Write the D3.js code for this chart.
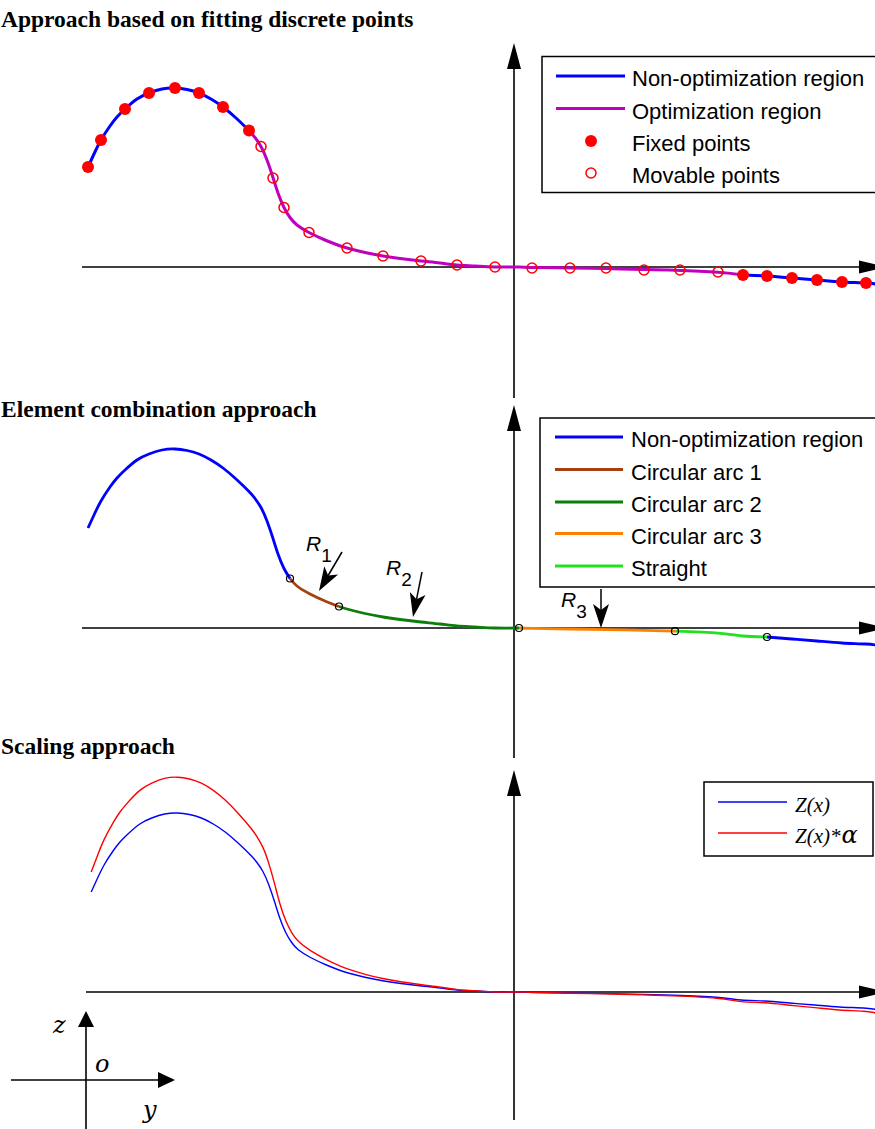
<!DOCTYPE html>
<html>
<head>
<meta charset="utf-8">
<script src="https://cdn.jsdelivr.net/npm/d3@7/dist/d3.min.js"></script>
<style>
  html, body { margin: 0; padding: 0; background: #fff; }
  svg { display: block; }
</style>
</head>
<body>
<div id="chart"></div>
<script>
// Profile of the contour: horizontal position y and height z (mm)
const profileY = [-106.5, -105, -103.25, -101, -99.25, -97.25, -94.25, -91.25, -88, -84.75,
  -81.75, -78.75, -75.75, -72.75, -69.5, -66.25, -64.75, -63.25, -61.75, -60.25,
  -59, -57.5, -56, -54.25, -51.25, -47.25, -43.75, -41.75, -37.25, -32.75,
  -28.5, -23.25, -18.5, -14.25, -9.75, -4.75, 1.25, 4.5, 14, 23,
  32.5, 40.25, 51, 57.25, 63.25, 69.5, 75.75, 82, 88, 91.5];
const profileZ = [25, 28.25, 31.75, 35.25, 37.5, 39.5, 42, 43.5, 44.5, 44.75,
  44.375, 43.5, 42, 40, 37.25, 34.125, 32.375, 30.125, 26.75, 22.375,
  18.5, 14.875, 12.375, 10.5, 8.625, 6.75, 5.375, 4.75, 3.625, 2.75,
  2.125, 1.5, 1, 0.5, 0.25, 0, 0, -0.1, -0.25, -0.4,
  -0.6, -0.8, -1.3, -2, -2.25, -2.75, -3.25, -3.75, -4, -4.4];

// Fitting approach: fixed and movable control points
const fixedY = [-106.5, -103.25, -97.25, -91.25, -84.75, -78.75, -72.75, -66.25,
  57.25, 63.25, 69.5, 75.75, 82, 88];
const fixedZ = [25, 31.75, 39.5, 43.5, 44.75, 43.5, 40, 34.125,
  -2, -2.25, -2.75, -3.25, -3.75, -4];
const movableY = [-63.25, -60.25, -57.5, -51.25, -41.75, -32.75, -23.25, -14.25,
  -4.75, 4.5, 14, 23, 32.5, 41.5, 51];
const movableZ = [30.125, 22.25, 14.875, 8.625, 4.75, 2.75, 1.5, 0.5,
  0, -0.25, -0.25, -0.25, -0.75, -0.75, -1.25];
const optimizationRange = [-66.25, 57.25];

// Element combination: segment limits along y
const elementNames = ["Non-optimization region", "Circular arc 1", "Circular arc 2",
  "Circular arc 3", "Straight", "Non-optimization region"];
const elementColors = ["#0000ff", "#a3420e", "#0b7d0b", "#ff8000", "#22e022", "#0000ff"];
const elementBreaks = [-56, -43.75, 1.25, 40.25, 63.25];
const radiusLabels = ["1", "2", "3"];

// Scaling approach
const alpha = 1.2;
const scaleLabels = ["Z(x)", "Z(x)*"];
const scaleColors = ["#0000ff", "#ff0000"];

const titles = ["Approach based on fitting discrete points",
  "Element combination approach", "Scaling approach"];
const fitLegend = ["Non-optimization region", "Optimization region", "Fixed points", "Movable points"];

const W = 875, H = 1129;
const svg = d3.select("#chart").append("svg").attr("width", W).attr("height", H)
  .attr("viewBox", `0 0 ${W} ${H}`);

const profile = profileY.map((y, i) => ({ y, z: profileZ[i] }));

const x12 = d3.scaleLinear().domain([-100, 100]).range([114, 914]);
const x3 = d3.scaleLinear().domain([-100, 100]).range([117, 911]);
const zScale = base => d3.scaleLinear().domain([0, 10]).range([base, base - 40]);
const z1 = zScale(267), z2 = zScale(628), z3 = zScale(992);

const sans = "'Liberation Sans', Arial, sans-serif";
const serif = "'Liberation Serif', 'Times New Roman', serif";
const smooth = d3.curveNatural;

function tri(g, tip, dir, len, half) {
  // filled triangle arrow head; dir is "up" or "right"
  const [tx, ty] = tip;
  const pts = dir === "up"
    ? [[tx, ty], [tx - half, ty + len], [tx + half, ty + len]]
    : [[tx, ty], [tx - len, ty - half], [tx - len, ty + half]];
  g.append("path").attr("d", "M" + pts.map(p => p.join(",")).join("L") + "Z").attr("fill", "#000");
}

function axes(g, axisY, xLeft, topTip, bottom, originX) {
  g.append("line").attr("x1", xLeft).attr("x2", 870).attr("y1", axisY).attr("y2", axisY)
    .attr("stroke", "#000").attr("stroke-width", 1.6);
  tri(g, [886, axisY], "right", 27, 6.5);
  g.append("line").attr("x1", originX).attr("x2", originX).attr("y1", topTip + 20).attr("y2", bottom)
    .attr("stroke", "#000").attr("stroke-width", 1.6);
  tri(g, [originX, topTip], "up", 26, 7);
}

function title(text, baseY) {
  svg.append("text").attr("x", 1).attr("y", baseY)
    .attr("font-family", serif).attr("font-weight", "bold").attr("font-size", 23.5)
    .attr("fill", "#000").text(text);
}

// ---------- Panel 1: fitting discrete points ----------
title(titles[0], 27);
const p1 = svg.append("g");
axes(p1, z1(0), 82, 43, 398, x12(0));

const line1 = d3.line().x(d => x12(d.y)).y(d => z1(d.z)).curve(smooth);
const [oa, ob] = optimizationRange;
const parts1 = [
  { data: profile.filter(d => d.y <= oa), color: "#0000ff" },
  { data: profile.filter(d => d.y >= oa && d.y <= ob), color: "#bf00bf" },
  { data: profile.filter(d => d.y >= ob), color: "#0000ff" }
];
p1.selectAll("path.seg").data(parts1).join("path").attr("class", "seg")
  .attr("d", d => line1(d.data)).attr("fill", "none").attr("stroke", d => d.color)
  .attr("stroke-width", 3).attr("stroke-linejoin", "round");

p1.selectAll("circle.fixed").data(fixedY.map((y, i) => ({ y, z: fixedZ[i] }))).join("circle")
  .attr("class", "fixed").attr("cx", d => x12(d.y)).attr("cy", d => z1(d.z)).attr("r", 6)
  .attr("fill", "#ff0000");
p1.selectAll("circle.movable").data(movableY.map((y, i) => ({ y, z: movableZ[i] }))).join("circle")
  .attr("class", "movable").attr("cx", d => x12(d.y)).attr("cy", d => z1(d.z)).attr("r", 5)
  .attr("fill", "none").attr("stroke", "#ff0000").attr("stroke-width", 1.5);

// legend 1
const lg1 = svg.append("g");
lg1.append("rect").attr("x", 542).attr("y", 56.5).attr("width", 345).attr("height", 136)
  .attr("fill", "#fff").attr("stroke", "#000").attr("stroke-width", 1.5);
const rows1 = [76, 108.5, 141, 173];
fitLegend.forEach((name, i) => {
  const ry = rows1[i];
  if (i === 0 || i === 1) {
    lg1.append("line").attr("x1", 556).attr("x2", 625).attr("y1", ry).attr("y2", ry)
      .attr("stroke", i === 0 ? "#0000ff" : "#bf00bf").attr("stroke-width", 3);
  } else if (i === 2) {
    lg1.append("circle").attr("cx", 591).attr("cy", ry).attr("r", 6).attr("fill", "#ff0000");
  } else {
    lg1.append("circle").attr("cx", 591).attr("cy", ry).attr("r", 5).attr("fill", "none")
      .attr("stroke", "#ff0000").attr("stroke-width", 1.5);
  }
  lg1.append("text").attr("x", 632).attr("y", ry + 10).attr("font-family", sans)
    .attr("font-size", 22).attr("fill", "#000").text(name);
});

// ---------- Panel 2: element combination ----------
title(titles[1], 417);
const p2 = svg.append("g");
axes(p2, z2(0), 82, 405, 758, x12(0));

const line2 = d3.line().x(d => x12(d.y)).y(d => z2(d.z)).curve(smooth);
const limits = [-Infinity, ...elementBreaks, Infinity];
const parts2 = elementColors.map((c, i) => ({
  color: c,
  data: profile.filter(d => d.y >= limits[i] && d.y <= limits[i + 1])
}));
p2.selectAll("path.seg").data(parts2).join("path").attr("class", "seg")
  .attr("d", d => line2(d.data)).attr("fill", "none").attr("stroke", d => d.color)
  .attr("stroke-width", 2.8).attr("stroke-linejoin", "round");

const junctions = profile.filter(d => elementBreaks.includes(d.y));
p2.selectAll("circle.joint").data(junctions).join("circle").attr("class", "joint")
  .attr("cx", d => x12(d.y)).attr("cy", d => z2(d.z)).attr("r", 3.5)
  .attr("fill", "none").attr("stroke", "#000").attr("stroke-width", 1.2);

// radius call-outs
function notchedArrow(g, from, tip) {
  const [fx, fy] = from, [tx, ty] = tip;
  const ang = Math.atan2(ty - fy, tx - fx);
  const len = 24, half = 8, notch = 6;
  const ux = Math.cos(ang), uy = Math.sin(ang), px = -uy, py = ux;
  const bx = tx - ux * len, by = ty - uy * len;
  const nx = tx - ux * (len - notch), ny = ty - uy * (len - notch);
  g.append("line").attr("x1", fx).attr("y1", fy).attr("x2", nx).attr("y2", ny)
    .attr("stroke", "#000").attr("stroke-width", 1.5);
  g.append("path").attr("d",
    `M${tx},${ty}L${bx + px * half},${by + py * half}L${nx},${ny}L${bx - px * half},${by - py * half}Z`)
    .attr("fill", "#000");
}
const calls = [
  { from: [342, 552], tip: [319, 591], rx: 306, ry: 551 },
  { from: [422, 572], tip: [413, 617], rx: 386, ry: 575 },
  { from: [601, 589], tip: [601, 628], rx: 561, ry: 607 }
];
calls.forEach((c, i) => {
  notchedArrow(p2, c.from, c.tip);
  const t = p2.append("text").attr("x", c.rx).attr("y", c.ry).attr("font-family", sans)
    .attr("font-size", 21).attr("font-style", "italic").attr("fill", "#000");
  t.append("tspan").text("R");
  t.append("tspan").attr("dy", 11).attr("font-size", 19).attr("font-style", "normal").text(radiusLabels[i]);
});

// legend 2
const lg2 = svg.append("g");
lg2.append("rect").attr("x", 540).attr("y", 418).attr("width", 347).attr("height", 169)
  .attr("fill", "#fff").attr("stroke", "#000").attr("stroke-width", 1.5);
const rows2 = [437, 469.5, 502, 533.5, 566];
elementNames.slice(0, 5).forEach((name, i) => {
  const ry = rows2[i];
  lg2.append("line").attr("x1", 555).attr("x2", 623).attr("y1", ry).attr("y2", ry)
    .attr("stroke", elementColors[i]).attr("stroke-width", 3);
  lg2.append("text").attr("x", 631).attr("y", ry + 10).attr("font-family", sans)
    .attr("font-size", 22).attr("fill", "#000").text(name);
});

// ---------- Panel 3: scaling ----------
title(titles[2], 754);
const p3 = svg.append("g");
axes(p3, z3(0), 86, 770, 1120, x3(0));

const scaled = [profile, profile.map(d => ({ y: d.y, z: d.z * alpha }))];
const line3 = d3.line().x(d => x3(d.y)).y(d => z3(d.z)).curve(smooth);
p3.selectAll("path.curve").data(scaled).join("path").attr("class", "curve")
  .attr("d", d => line3(d)).attr("fill", "none").attr("stroke", (d, i) => scaleColors[i])
  .attr("stroke-width", 1.4);

// legend 3
const lg3 = svg.append("g");
lg3.append("rect").attr("x", 704).attr("y", 782).attr("width", 169).attr("height", 74)
  .attr("fill", "#fff").attr("stroke", "#000").attr("stroke-width", 1.5);
[802, 833].forEach((ry, i) => {
  lg3.append("line").attr("x1", 718).attr("x2", 787).attr("y1", ry).attr("y2", ry)
    .attr("stroke", scaleColors[i]).attr("stroke-width", 1.4);
  const t = lg3.append("text").attr("x", 795).attr("y", ry + 10).attr("font-family", serif)
    .attr("font-style", "italic").attr("font-size", 21).attr("fill", "#000").text(scaleLabels[i]);
  if (i === 1) {
    t.append("tspan").attr("dx", 1).attr("font-family", "'DejaVu Serif', serif")
      .attr("font-size", 24).text("α");
  }
});

// ---------- coordinate frame sketch ----------
const cf = svg.append("g");
cf.append("line").attr("x1", 11).attr("x2", 160).attr("y1", 1080).attr("y2", 1080)
  .attr("stroke", "#000").attr("stroke-width", 1.6);
tri(cf, [175, 1080], "right", 17, 8);
cf.append("line").attr("x1", 86).attr("x2", 86).attr("y1", 1025).attr("y2", 1129)
  .attr("stroke", "#000").attr("stroke-width", 1.6);
tri(cf, [86, 1011], "up", 16, 8);
[["z", 53, 1033], ["o", 95, 1072], ["y", 143, 1118]].forEach(([t, x, y]) => {
  cf.append("text").attr("x", x).attr("y", y).attr("font-family", "'DejaVu Serif', serif")
    .attr("font-style", "italic").attr("font-size", 24).attr("fill", "#000").text(t);
});
</script>
</body>
</html>
